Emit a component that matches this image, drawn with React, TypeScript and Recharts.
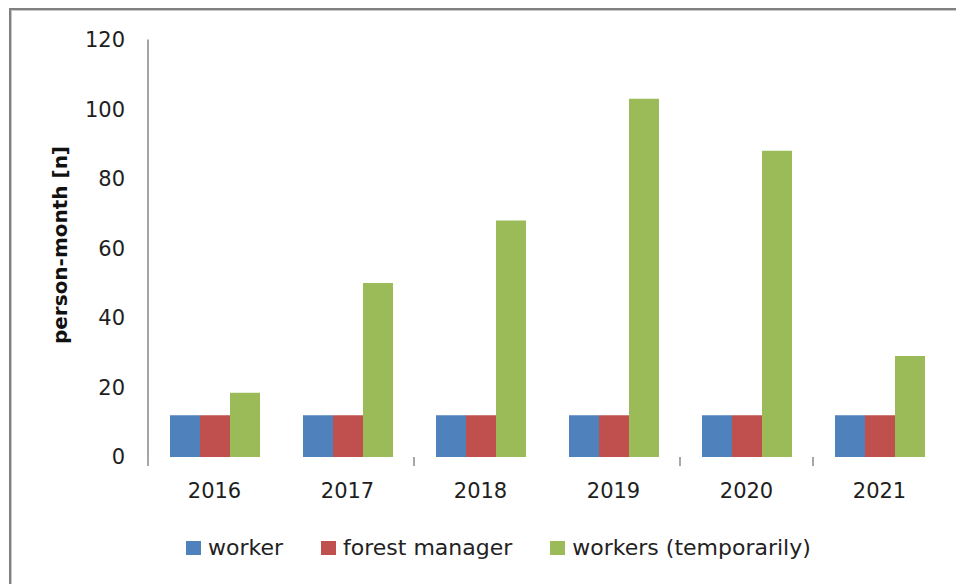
import React from 'react';
import { BarChart, Bar, XAxis, YAxis, Legend } from 'recharts';

const years = ['2016', '2017', '2018', '2019', '2020', '2021'];
const worker = [12, 12, 12, 12, 12, 12];
const forestManager = [12, 12, 12, 12, 12, 12];
const workersTemporarily = [18.5, 50, 68, 103, 88, 29];
const yTicks = [0, 20, 40, 60, 80, 100, 120];
const boundaryTickIndices = [0, 2, 4, 5];

const seriesNames = ['worker', 'forest manager', 'workers (temporarily)'];
const seriesColors = ['#4F81BD', '#C0504D', '#9BBB59'];

const data = years.map((y, i) => ({
  year: y,
  worker: worker[i],
  forest: forestManager[i],
  temp: workersTemporarily[i],
}));

const FONT = '"DejaVu Sans", sans-serif';
const TICK_MARGIN = 26;

const LegendContent = () => (
  <div
    style={{
      width: 956,
      height: 67,
      boxSizing: 'border-box',
      paddingTop: 16,
      paddingLeft: 178,
      display: 'flex',
      alignItems: 'flex-start',
      fontFamily: FONT,
      fontSize: 22,
      color: '#222',
    }}
  >
    {seriesNames.map((n, i) => (
      <div key={n} style={{ display: 'flex', alignItems: 'center', height: 30, marginRight: 38 }}>
        <div style={{ width: 15, height: 14, background: seriesColors[i], marginRight: 7 }} />
        <span style={{ lineHeight: '30px', whiteSpace: 'nowrap' }}>{n}</span>
      </div>
    ))}
  </div>
);

const YLabel = () => (
  <text
    x={52}
    y={237}
    transform="rotate(-90, 52, 237)"
    textAnchor="middle"
    dominantBaseline="central"
    fontFamily={FONT}
    fontSize={20}
    fontWeight="bold"
    fill="#111"
  >
    person-month [n]
  </text>
);

const XTick = (props: any) => {
  const { x, y, payload } = props;
  const idx = payload?.index ?? 0;
  const half = payload?.offset ?? 0;
  const axisY = y - TICK_MARGIN;
  return (
    <g>
      {boundaryTickIndices.includes(idx) && (
        <line x1={x - half} x2={x - half} y1={axisY} y2={axisY + 9} stroke="#8a8a8a" strokeWidth={1.5} />
      )}
      <text x={x} y={y} dy="0.71em" textAnchor="middle" fontFamily={FONT} fontSize={21} fill="#1e1e1e">
        {payload.value}
      </text>
    </g>
  );
};

export default function App() {
  return (
    <div style={{ position: 'relative', width: 956, height: 576 }}>
      <div
        style={{
          position: 'absolute',
          left: 1,
          top: 0,
          width: 955,
          height: 576,
          borderTop: '2px solid #808080',
          borderLeft: '2px solid #808080',
          boxShadow: 'inset 1px 1px 0 #c8c8c8',
          boxSizing: 'border-box',
          pointerEvents: 'none',
        }}
      />
      <BarChart
        width={956}
        height={576}
        data={data}
        margin={{ top: 31.5, right: 18, bottom: 0, left: 0 }}
        barSize={30}
        barGap={0}
      >
        <XAxis
          dataKey="year"
          axisLine={false}
          tickLine={false}
          tickSize={0}
          tickMargin={TICK_MARGIN}
          height={60}
          interval={0}
          tick={<XTick />}
        />
        <YAxis
          width={140}
          domain={[0, 120]}
          ticks={yTicks}
          axisLine={{ stroke: '#868686', strokeWidth: 1.5 }}
          tickLine={false}
          tickSize={0}
          tickMargin={23}
          tick={{ fontFamily: FONT, fontSize: 21, fill: '#1e1e1e' }}
          label={<YLabel />}
        />
        <Legend verticalAlign="bottom" content={<LegendContent />} wrapperStyle={{ left: 0, width: 956 }} />
        <Bar dataKey="worker" name={seriesNames[0]} fill={seriesColors[0]} isAnimationActive={false} />
        <Bar dataKey="forest" name={seriesNames[1]} fill={seriesColors[1]} isAnimationActive={false} />
        <Bar dataKey="temp" name={seriesNames[2]} fill={seriesColors[2]} isAnimationActive={false} />
      </BarChart>
    </div>
  );
}
